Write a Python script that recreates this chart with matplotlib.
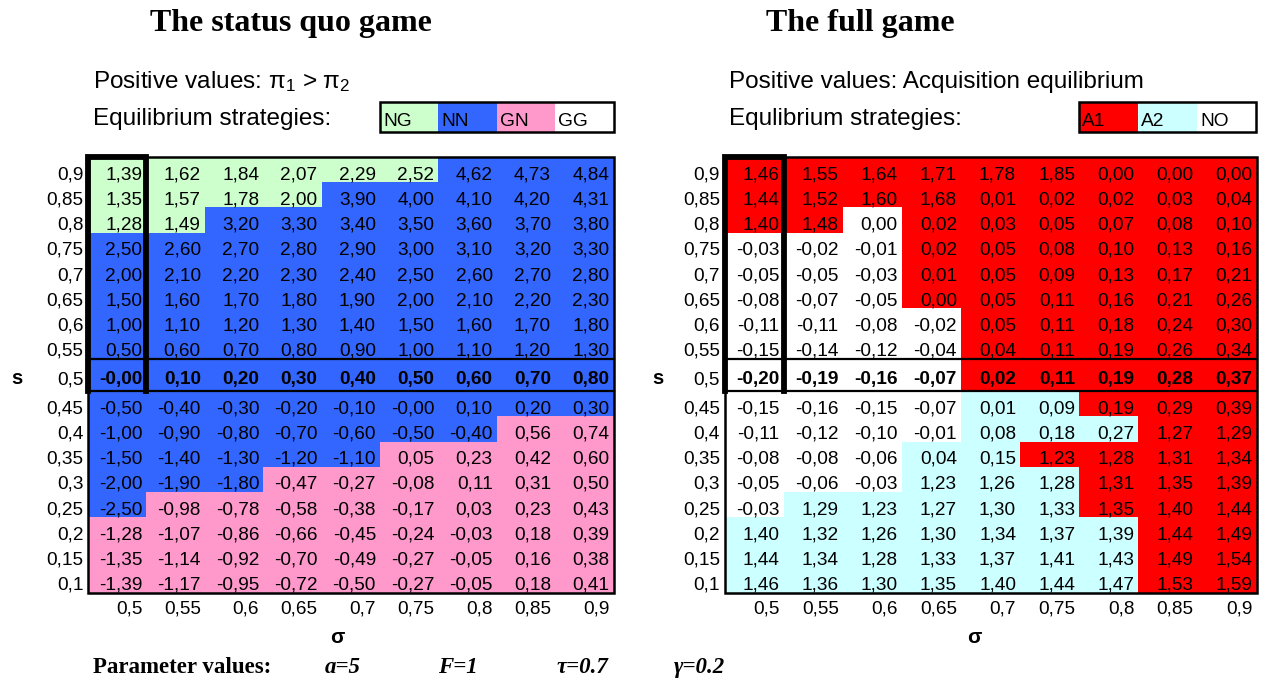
"""Two equilibrium tables: the status quo game and the full game."""

import matplotlib

matplotlib.use("Agg")
import matplotlib.pyplot as plt
import numpy as np
from matplotlib.colors import ListedColormap
from matplotlib.patches import Rectangle

W, H = 1266, 684
SANS = "Liberation Sans"
SERIF = "Liberation Serif"
CELL_SIZE = 13.7

plt.rcParams["mathtext.fontset"] = "custom"
plt.rcParams["mathtext.rm"] = SANS
plt.rcParams["mathtext.default"] = "rm"

sigma_ticks = ["0,5", "0,55", "0,6", "0,65", "0,7", "0,75", "0,8", "0,85", "0,9"]
s_rows = ["0,9", "0,85", "0,8", "0,75", "0,7", "0,65", "0,6", "0,55", "0,5",
          "0,45", "0,4", "0,35", "0,3", "0,25", "0,2", "0,15", "0,1"]
MID = s_rows.index("0,5")

sq_values = [
    [1.39, 1.62, 1.84, 2.07, 2.29, 2.52, 4.62, 4.73, 4.84],
    [1.35, 1.57, 1.78, 2.00, 3.90, 4.00, 4.10, 4.20, 4.31],
    [1.28, 1.49, 3.20, 3.30, 3.40, 3.50, 3.60, 3.70, 3.80],
    [2.50, 2.60, 2.70, 2.80, 2.90, 3.00, 3.10, 3.20, 3.30],
    [2.00, 2.10, 2.20, 2.30, 2.40, 2.50, 2.60, 2.70, 2.80],
    [1.50, 1.60, 1.70, 1.80, 1.90, 2.00, 2.10, 2.20, 2.30],
    [1.00, 1.10, 1.20, 1.30, 1.40, 1.50, 1.60, 1.70, 1.80],
    [0.50, 0.60, 0.70, 0.80, 0.90, 1.00, 1.10, 1.20, 1.30],
    [-0.0, 0.10, 0.20, 0.30, 0.40, 0.50, 0.60, 0.70, 0.80],
    [-0.50, -0.40, -0.30, -0.20, -0.10, -0.0, 0.10, 0.20, 0.30],
    [-1.00, -0.90, -0.80, -0.70, -0.60, -0.50, -0.40, 0.56, 0.74],
    [-1.50, -1.40, -1.30, -1.20, -1.10, 0.05, 0.23, 0.42, 0.60],
    [-2.00, -1.90, -1.80, -0.47, -0.27, -0.08, 0.11, 0.31, 0.50],
    [-2.50, -0.98, -0.78, -0.58, -0.38, -0.17, 0.03, 0.23, 0.43],
    [-1.28, -1.07, -0.86, -0.66, -0.45, -0.24, -0.03, 0.18, 0.39],
    [-1.35, -1.14, -0.92, -0.70, -0.49, -0.27, -0.05, 0.16, 0.38],
    [-1.39, -1.17, -0.95, -0.72, -0.50, -0.27, -0.05, 0.18, 0.41],
]
sq_strategies = [
    "NG NG NG NG NG NG NN NN NN",
    "NG NG NG NG NN NN NN NN NN",
    "NG NG NN NN NN NN NN NN NN",
    "NN NN NN NN NN NN NN NN NN",
    "NN NN NN NN NN NN NN NN NN",
    "NN NN NN NN NN NN NN NN NN",
    "NN NN NN NN NN NN NN NN NN",
    "NN NN NN NN NN NN NN NN NN",
    "NN NN NN NN NN NN NN NN NN",
    "NN NN NN NN NN NN NN NN NN",
    "NN NN NN NN NN NN NN GN GN",
    "NN NN NN NN NN GN GN GN GN",
    "NN NN NN GN GN GN GN GN GN",
    "NN GN GN GN GN GN GN GN GN",
    "GN GN GN GN GN GN GN GN GN",
    "GN GN GN GN GN GN GN GN GN",
    "GN GN GN GN GN GN GN GN GN",
]
sq_legend = ["NG", "NN", "GN", "GG"]
sq_colors = ["#ccffcc", "#3366ff", "#ff99cc", "#ffffff"]

full_values = [
    [1.46, 1.55, 1.64, 1.71, 1.78, 1.85, 0.00, 0.00, 0.00],
    [1.44, 1.52, 1.60, 1.68, 0.01, 0.02, 0.02, 0.03, 0.04],
    [1.40, 1.48, 0.00, 0.02, 0.03, 0.05, 0.07, 0.08, 0.10],
    [-0.03, -0.02, -0.01, 0.02, 0.05, 0.08, 0.10, 0.13, 0.16],
    [-0.05, -0.05, -0.03, 0.01, 0.05, 0.09, 0.13, 0.17, 0.21],
    [-0.08, -0.07, -0.05, 0.00, 0.05, 0.11, 0.16, 0.21, 0.26],
    [-0.11, -0.11, -0.08, -0.02, 0.05, 0.11, 0.18, 0.24, 0.30],
    [-0.15, -0.14, -0.12, -0.04, 0.04, 0.11, 0.19, 0.26, 0.34],
    [-0.20, -0.19, -0.16, -0.07, 0.02, 0.11, 0.19, 0.28, 0.37],
    [-0.15, -0.16, -0.15, -0.07, 0.01, 0.09, 0.19, 0.29, 0.39],
    [-0.11, -0.12, -0.10, -0.01, 0.08, 0.18, 0.27, 1.27, 1.29],
    [-0.08, -0.08, -0.06, 0.04, 0.15, 1.23, 1.28, 1.31, 1.34],
    [-0.05, -0.06, -0.03, 1.23, 1.26, 1.28, 1.31, 1.35, 1.39],
    [-0.03, 1.29, 1.23, 1.27, 1.30, 1.33, 1.35, 1.40, 1.44],
    [1.40, 1.32, 1.26, 1.30, 1.34, 1.37, 1.39, 1.44, 1.49],
    [1.44, 1.34, 1.28, 1.33, 1.37, 1.41, 1.43, 1.49, 1.54],
    [1.46, 1.36, 1.30, 1.35, 1.40, 1.44, 1.47, 1.53, 1.59],
]
full_strategies = [
    "A1 A1 A1 A1 A1 A1 A1 A1 A1",
    "A1 A1 A1 A1 A1 A1 A1 A1 A1",
    "A1 A1 NO A1 A1 A1 A1 A1 A1",
    "NO NO NO A1 A1 A1 A1 A1 A1",
    "NO NO NO A1 A1 A1 A1 A1 A1",
    "NO NO NO A1 A1 A1 A1 A1 A1",
    "NO NO NO NO A1 A1 A1 A1 A1",
    "NO NO NO NO A1 A1 A1 A1 A1",
    "NO NO NO NO A1 A1 A1 A1 A1",
    "NO NO NO NO A2 A2 A1 A1 A1",
    "NO NO NO NO A2 A2 A2 A1 A1",
    "NO NO NO A2 A2 A1 A1 A1 A1",
    "NO NO NO A2 A2 A2 A1 A1 A1",
    "NO A2 A2 A2 A2 A2 A1 A1 A1",
    "A2 A2 A2 A2 A2 A2 A2 A1 A1",
    "A2 A2 A2 A2 A2 A2 A2 A1 A1",
    "A2 A2 A2 A2 A2 A2 A2 A1 A1",
]
full_legend = ["A1", "A2", "NO"]
full_colors = ["#ff0000", "#ccffff", "#ffffff"]

param_labels = ["a=5", "F=1", "τ=0.7", "γ=0.2"]


def _fmt(value: float) -> str:
    return f"{value:.2f}".replace(".", ",")


def draw_table(fig, spec: dict) -> None:
    left, right, top, bottom = spec["box"]
    ax = fig.add_axes([left / W, 1 - bottom / H, (right - left) / W, (bottom - top) / H])
    heights = np.ones(len(s_rows))
    heights[MID] = 1.27
    y_edges = np.concatenate([[0.0], np.cumsum(heights)])
    y_end = y_edges[-1]
    ax.set_xlim(0, 9)
    ax.set_ylim(y_end, 0)
    ax.axis("off")
    px_x = 9 / (right - left)
    px_y = y_end / (bottom - top)

    legend, colors = spec["legend"], spec["colors"]
    idx = np.array([[legend.index(c) for c in row.split()] for row in spec["strategies"]])
    ax.pcolormesh(np.arange(10), y_edges, idx, cmap=ListedColormap(colors),
                  vmin=-0.5, vmax=len(colors) - 0.5, shading="flat")

    centres = (y_edges[:-1] + y_edges[1:]) / 2
    for i, row in enumerate(spec["values"]):
        weight = "bold" if i == MID else "normal"
        yb = centres[i] + 9.4 * px_y
        for j, value in enumerate(row):
            ax.text(j + 1 - 4 * px_x, yb, _fmt(value), ha="right", va="baseline",
                    fontsize=CELL_SIZE, fontweight=weight, family=SANS, clip_on=False)
        ax.text(-4.5 * px_x, yb, s_rows[i], ha="right", va="baseline",
                fontsize=CELL_SIZE, family=SANS, clip_on=False)
    ax.text((spec["s_x"] - left) * px_x, centres[MID] + 9.4 * px_y, "s", ha="center",
            va="baseline", fontsize=14.5, fontweight="bold", family=SANS, clip_on=False)

    for j, label in enumerate(sigma_ticks):
        ax.text(j + 1 - 4 * px_x, y_end + 20 * px_y, label, ha="right", va="baseline",
                fontsize=CELL_SIZE, family=SANS, clip_on=False)
    ax.text((spec["sigma_x"] - left) * px_x, y_end + 50 * px_y, "σ", ha="center",
            va="baseline", fontsize=15, fontweight="bold", family=SANS, clip_on=False)

    # borders: outer frame, the s=0.5 row and the sigma=0.5 column box
    line = dict(color="black", clip_on=False, solid_joinstyle="miter", solid_capstyle="projecting")
    ax.plot([0, 9, 9, 0, 0], [0, 0, y_end, y_end, 0], lw=1.8, **line)
    for y in (y_edges[MID], y_edges[MID + 1]):
        ax.plot([0, 9], [y, y], lw=1.6, **line)
    ax.plot([0, 0, 1, 1], [y_edges[MID + 1], 0, 0, y_edges[MID + 1]], lw=4.2, **line)

    # strategy legend above the right-hand columns
    first = spec["legend_col"]
    y0, hgt = -55 * px_y, 30 * px_y
    for k, (name, colour) in enumerate(zip(legend, colors)):
        ax.add_patch(Rectangle((first + k, y0), 1, hgt, facecolor=colour,
                               edgecolor="none", clip_on=False))
        ax.text(first + k + 3 * px_x, -31 * px_y, name, ha="left", va="baseline",
                fontsize=13.8, family=SANS, clip_on=False)
    ax.add_patch(Rectangle((first, y0), len(legend), hgt, facecolor="none",
                           edgecolor="black", lw=1.8, clip_on=False))

    fig.text(spec["title_x"] / W, 1 - 31 / H, spec["title"], ha="left", va="baseline",
             fontsize=23, fontweight="bold", family=SERIF)
    fig.text(spec["note_x"] / W, 1 - 88 / H, spec["note"], ha="left", va="baseline",
             fontsize=17.5, family=SANS)
    fig.text(spec["note_x"] / W, 1 - 125 / H, spec["strategies_label"], ha="left",
             va="baseline", fontsize=17.5, family=SANS)


fig = plt.figure(figsize=(W / 100, H / 100), dpi=100)
fig.patch.set_facecolor("white")

draw_table(fig, {
    "box": (88, 613.5, 157, 593),
    "values": sq_values,
    "strategies": sq_strategies,
    "legend": sq_legend,
    "colors": sq_colors,
    "legend_col": 5,
    "title": "The status quo game",
    "title_x": 150,
    "note": "Positive values: π$_1$ > π$_2$",
    "strategies_label": "Equilibrium strategies:",
    "note_x": 93,
    "s_x": 17,
    "sigma_x": 337,
})
draw_table(fig, {
    "box": (724.5, 1256.5, 157, 593),
    "values": full_values,
    "strategies": full_strategies,
    "legend": full_legend,
    "colors": full_colors,
    "legend_col": 6,
    "title": "The full game",
    "title_x": 766,
    "note": "Positive values: Acquisition equilibrium",
    "strategies_label": "Equlibrium strategies:",
    "note_x": 729,
    "s_x": 658,
    "sigma_x": 974,
})

fig.text(93 / W, 1 - 673 / H, "Parameter values:", ha="left", va="baseline",
         fontsize=16.5, fontweight="bold", family=SERIF)
for x, label in zip([325, 438, 557, 674], param_labels):
    fig.text(x / W, 1 - 673 / H, label, ha="left", va="baseline", fontsize=16.5,
             fontweight="bold", fontstyle="italic", family=SERIF)

fig.savefig("out.png", dpi=100)
